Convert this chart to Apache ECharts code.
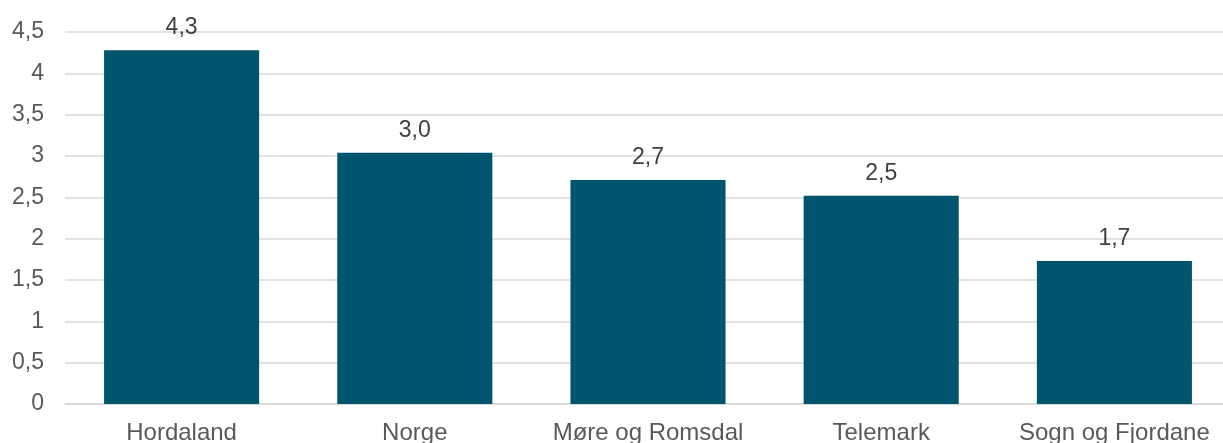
<!DOCTYPE html>
<html>
<head>
<meta charset="utf-8">
<script src="https://cdn.jsdelivr.net/npm/echarts@6/dist/echarts.min.js"></script>
<style>
  html, body { margin: 0; padding: 0; background: #fff; overflow: hidden; }
  #chart { width: 1223px; height: 443px; }
</style>
</head>
<body>
<div id="chart"></div>
<script>
// data
var categories = ['Hordaland', 'Norge', 'Møre og Romsdal', 'Telemark', 'Sogn og Fjordane'];
var values = [4.28, 3.04, 2.71, 2.52, 1.73];
var yTicks = [0, 0.5, 1, 1.5, 2, 2.5, 3, 3.5, 4, 4.5];

var chart = echarts.init(document.getElementById('chart'));
var fmt = function (v) { return String(v).replace('.', ','); };

var option = {
  animation: false,
  textStyle: { fontFamily: 'Liberation Sans, Arial, sans-serif' },
  // plot area runs a bit past the right edge of the window, like the original
  grid: { left: 65, width: 1166, top: 32, height: 372, containLabel: false, outerBoundsMode: 'none' },
  xAxis: {
    type: 'category',
    data: categories,
    axisLine: { lineStyle: { color: '#d9d9d9', width: 1.5 } },
    axisTick: { show: false },
    axisLabel: { color: '#595959', fontSize: 24, margin: 17, interval: 0 }
  },
  yAxis: {
    type: 'value',
    min: yTicks[0],
    max: yTicks[yTicks.length - 1],
    interval: 0.5,
    axisLine: { show: false },
    axisTick: { show: false },
    splitLine: { lineStyle: { color: '#d9d9d9', width: 1.5 } },
    axisLabel: { color: '#595959', fontSize: 23, margin: 21, formatter: fmt }
  },
  series: [{
    type: 'bar',
    data: values,
    barWidth: '66.5%',
    itemStyle: { color: '#00556e' },
    label: {
      show: true,
      position: 'top',
      distance: 11,
      color: '#404040',
      fontSize: 23,
      formatter: function (p) { return p.value.toFixed(1).replace('.', ','); }
    }
  }]
};
chart.setOption(option);
</script>
</body>
</html>
